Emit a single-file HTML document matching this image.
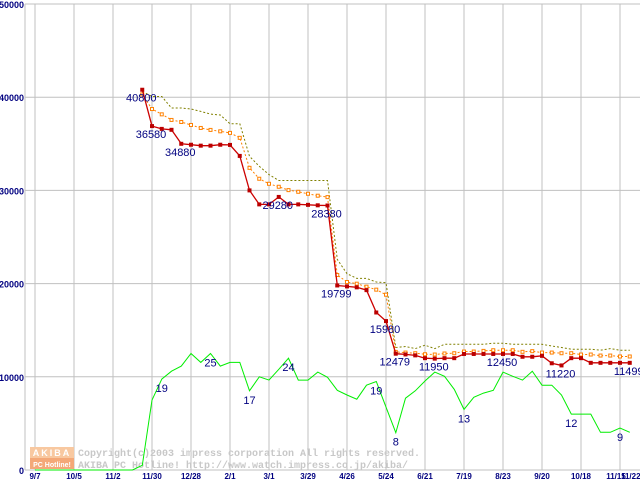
<!DOCTYPE html>
<html><head><meta charset="utf-8"><style>
body{margin:0;background:#fff;}
svg{display:block;font-family:"Liberation Sans",sans-serif;}
</style></head><body>
<svg id="chart" width="640" height="480" viewBox="0 0 640 480" xmlns="http://www.w3.org/2000/svg">
<g id="grid"></g>
<g id="wm">
<rect x="30" y="447" width="44" height="11" fill="#f8c8a0"/>
<rect x="30" y="458" width="44" height="11" fill="#f4a878"/>
<text x="52" y="456" font-size="9" font-weight="bold" fill="#fff" text-anchor="middle" letter-spacing="2">AKIBA</text>
<text x="52" y="467" font-size="7" font-weight="bold" fill="#fff" text-anchor="middle">PC Hotline!</text>
<text x="78" y="456" font-size="10" font-family="Liberation Mono, monospace" font-weight="bold" fill="#c8c8c8">Copyright(c)2003 impress corporation All rights reserved.</text>
<text x="78" y="468" font-size="10" font-family="Liberation Mono, monospace" font-weight="bold" fill="#c8c8c8">AKIBA PC Hotline!  http://www.watch.impress.co.jp/akiba/</text>
</g>
<g id="series"></g>
<g id="labels"></g>
</svg>
<script>
const xTickLabels=["9/7","10/5","11/2","11/30","12/28","2/1","3/1","3/29","4/26","5/24","6/21","7/19","8/23","9/20","10/18","11/15"];
const yTickLabels=[0,10000,20000,30000,40000,50000];
const minStart=11;
const minPrice=[40800,36900,36600,36500,35000,34900,34800,34800,34900,34880,33700,30000,28500,28500,29300,28500,28500,28450,28400,28380,19800,19700,19600,19300,16900,15980,12479,12400,12300,12000,11950,12000,12000,12450,12450,12450,12450,12450,12450,12150,12150,12250,11450,11220,12000,12000,11499,11499,11499,11499,11499];
const avgPrice=[40300,38730,38160,37560,37340,37020,36700,36490,36340,36170,35640,32420,31250,30710,30390,30030,29850,29640,29430,29280,20920,20170,19990,19670,19350,18810,12670,12600,12530,12420,12390,12500,12530,12710,12710,12780,12850,12850,12850,12680,12750,12600,12600,12530,12530,12390,12390,12280,12280,12180,12180];
const maxPrice=[40620,40080,40080,38840,38840,38730,38480,38190,38090,37160,37160,33660,32590,31700,31060,31060,31060,31060,31060,31060,22600,21060,20560,20560,20170,20100,13140,13250,13030,13390,13030,13490,13490,13490,13490,13490,13600,13600,13490,13490,13490,13490,13310,13140,12960,12960,12960,12850,13030,12850,12850];
const shopCount=[0,0,0,0,0,0,0,0,0,0,0,1,15,19.5,21.2,22.3,25,23.1,25,22.3,23.1,23.1,17,20,19.3,21.6,24,19.3,19.3,21,19.9,17.1,16.1,15.2,18.2,19,13.5,8,15.4,17,19.1,21,20.1,17.3,13,15.6,16.5,17.1,21,20.1,19.3,21.2,18.2,18.2,16.1,12,12,12,8.1,8.1,9,8.1];
const countScale=500;
const priceLabels=[[0,40800],[1,36580],[4,34880],[14,29280],[19,28380],[20,19799],[25,15980],[26,12479],[30,11950],[37,12450],[43,11220],[50,11499]];
const countLabels=[[13,19],[18,25],[22,17],[26,24],[35,19],[37,8],[44,13],[55,12],[60,9]];

const NS="http://www.w3.org/2000/svg";
function X(i){return 35+i*9.75;}
function Y(v){return 470-v*0.00932;}
function mk(tag,attrs,parent){const e=document.createElementNS(NS,tag);for(const k in attrs)e.setAttribute(k,attrs[k]);parent.appendChild(e);return e;}
const grid=document.getElementById('grid'),ser=document.getElementById('series'),lab=document.getElementById('labels');
yTickLabels.forEach(v=>{
  const l=mk('line',{x1:25,x2:640,y1:Y(v),y2:Y(v),stroke:'#c0c0c0','stroke-width':1},grid);
  
  
  const t=mk('text',{x:24,y:Y(v)+4,'font-size':9,'font-weight':'bold',fill:'#000080','text-anchor':'end'},grid);
  t.textContent=v;
  
  
});
xTickLabels.forEach((s,k)=>{
  const x=X(k*4);
  const l=mk('line',{x1:x,x2:x,y1:4,y2:470,stroke:'#c0c0c0','stroke-width':1},grid);
  
  
  const t=mk('text',{x:k==15?x-4:x,y:479,'font-size':8,'font-weight':'bold',fill:'#000080','text-anchor':'middle'},grid);
  t.textContent=s;
  
  
});
{const t=mk('text',{x:X(61)+1,y:479,'font-size':8,'font-weight':'bold',fill:'#000080','text-anchor':'middle'},grid);t.textContent="11/22";

}
{const l=mk('line',{x1:25,x2:25,y1:4,y2:470,stroke:'#c0c0c0'},grid);

}
function poly(arr,start,scale,attrs,name){
  const pts=arr.map((v,i)=>X(i+start).toFixed(1)+','+Y(v*scale).toFixed(1)).join(' ');
  const p=mk('polyline',Object.assign({points:pts,fill:'none'},attrs),ser);
  
  
}
poly(shopCount,0,countScale,{stroke:'#00ee00','stroke-width':1},'shop-count-line');
poly(maxPrice,minStart,1,{stroke:'#808000','stroke-width':1,'stroke-dasharray':'2,2'},'max-price-line');
poly(avgPrice,minStart,1,{stroke:'#ff8000','stroke-width':1,'stroke-dasharray':'2,2'},'avg-price-line');
avgPrice.forEach((v,i)=>{const r=mk('rect',{x:X(i+minStart)-1.5,y:Y(v)-1.5,width:3,height:3,fill:'#fff',stroke:'#ff8000','stroke-width':1},ser);

});
poly(minPrice,minStart,1,{stroke:'#cc0000','stroke-width':1.3},'min-price-line');
minPrice.forEach((v,i)=>{const r=mk('rect',{x:X(i+minStart)-2,y:Y(v)-2,width:4,height:4,fill:'#bb0000'},ser);

});
priceLabels.forEach(([i,v])=>{const t=mk('text',{x:X(i+minStart)-1,y:Y(minPrice[i])+12,'font-size':11,fill:'#000080','text-anchor':'middle'},lab);
t.textContent=v;

});
countLabels.forEach(([i,v])=>{const t=mk('text',{x:X(i),y:Y(shopCount[i]*countScale)+13,'font-size':11,fill:'#000080','text-anchor':'middle'},lab);
t.textContent=v;

});
</script>
</body></html>
